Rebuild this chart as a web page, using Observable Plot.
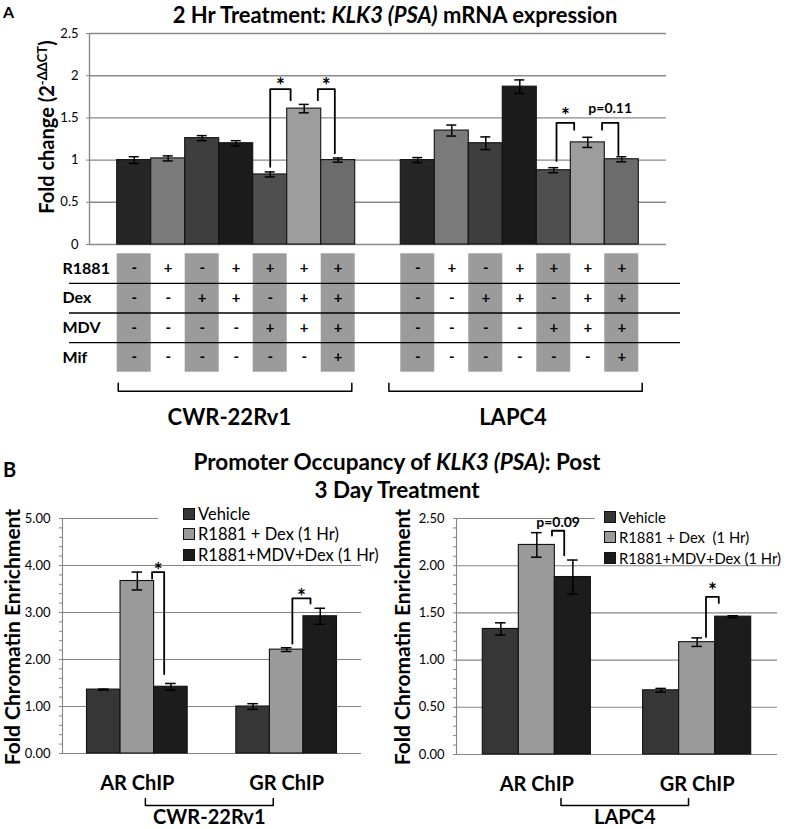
<!DOCTYPE html>
<html><head><meta charset="utf-8">
<script src="https://cdn.jsdelivr.net/npm/d3@7"></script>
<script src="https://cdn.jsdelivr.net/npm/@observablehq/plot@0.6"></script>
<style>
body{margin:0;background:#fff;}
#root{position:relative;width:787px;height:829px;overflow:hidden;font-family:Lato,"Open Sans",sans-serif;color:#000;background:#fff;}
#root svg{position:absolute;overflow:visible;}
.t{position:absolute;white-space:nowrap;font-weight:bold;line-height:1;}
.ctr{transform:translate(-50%,-50%);}
.rot{transform:translate(-50%,-50%) rotate(-90deg);}
.legend{position:absolute;background:#fff;font-size:17px;box-sizing:border-box;}
.legend .row{height:20.5px;line-height:20.5px;white-space:nowrap;display:flex;align-items:center;}
.legend .sw{width:10px;height:10px;border:1px solid #111;margin-right:3px;flex:none;}
</style></head><body><div id="root"></div>
<script>
// ---------------- DATA ----------------
// Panel A: 2 Hr treatment, KLK3 (PSA) mRNA fold change
const cellLines = ["CWR-22Rv1", "LAPC4"];
const foldCWR = [1.00, 1.02, 1.26, 1.20, 0.83, 1.61, 1.00];
const errCWR  = [0.04, 0.03, 0.03, 0.03, 0.03, 0.05, 0.025];
const foldLAPC = [1.00, 1.35, 1.20, 1.87, 0.88, 1.21, 1.01];
const errLAPC  = [0.03, 0.065, 0.075, 0.08, 0.03, 0.06, 0.03];
const greysA = ["#262626", "#7a7a7a", "#3e3e3e", "#1b1b1b", "#4f4f4f", "#9d9d9d", "#6c6c6c"];
const yTicksA = [0, 0.5, 1, 1.5, 2, 2.5];
const treatmentRows = ["R1881", "Dex", "MDV", "Mif"];
const signR1881 = ["-", "+", "-", "+", "+", "+", "+"];
const signDex   = ["-", "-", "+", "+", "-", "+", "+"];
const signMDV   = ["-", "-", "-", "-", "+", "+", "+"];
const signMif   = ["-", "-", "-", "-", "-", "-", "+"];
// significance annotations (column index units, values in fold change)
const sigA = [
  {group: 0, xa: 4.5, xb: 5.1, ya: 0.92, top: 1.84, yb: 1.71, label: "*", ly: 1.87},
  {group: 0, xa: 5.9, xb: 6.4, ya: 1.71, top: 1.84, yb: 1.08, label: "*", ly: 1.87},
  {group: 1, xa: 4.58, xb: 5.1, ya: 0.99, top: 1.44, yb: 1.36, label: "*", ly: 1.52},
  {group: 1, xa: 5.92, xb: 6.4, ya: 1.36, top: 1.44, yb: 1.06, label: "p=0.11", ly: 1.61}
];

// Panel B: promoter occupancy (fold chromatin enrichment)
const targets = ["AR ChIP", "GR ChIP"];
const treatmentsB = ["Vehicle", "R1881 + Dex (1 Hr)", "R1881+MDV+Dex (1 Hr)"];
const greysB = ["#363636", "#9a9a9a", "#1c1c1c"];
const cwrAR = [1.36, 3.67, 1.42];
const cwrARerr = [0.01, 0.19, 0.07];
const cwrGR = [1.00, 2.21, 2.92];
const cwrGRerr = [0.06, 0.04, 0.17];
const lapcAR = [1.33, 2.22, 1.88];
const lapcARerr = [0.065, 0.13, 0.18];
const lapcGR = [0.68, 1.19, 1.46];
const lapcGRerr = [0.02, 0.045, 0.01];
const sigCWR = [
  {g: 0, xa: 1.94, xb: 2.3, ya: 3.72, top: 3.86, yb: 1.69, label: "*", ly: 3.87},
  {g: 1, xa: 1.67, xb: 2.21, ya: 2.34, top: 3.30, yb: 3.19, label: "*", ly: 3.32}
];
const sigLAPC = [
  {g: 0, xa: 1.92, xb: 2.26, ya: 2.32, top: 2.37, yb: 2.11, label: "p=0.09", ly: 2.46},
  {g: 1, xa: 1.745, xb: 2.1, ya: 1.245, top: 1.67, yb: 1.606, label: "*", ly: 1.73}
];

// ---------------- LAYOUT ----------------
const root = document.getElementById("root");
const baseStyle = {fontFamily: "Lato, 'Open Sans', sans-serif", fontSize: "13px", color: "#000", background: "transparent", overflow: "visible"};
function place(el, left, top) { el.style.left = left + "px"; el.style.top = top + "px"; root.appendChild(el); }
function html(cls, content, left, top, css) {
  const d = document.createElement("div");
  d.className = cls; d.innerHTML = content;
  if (css) Object.assign(d.style, css);
  place(d, left, top);
  return d;
}
const starSize = d => d.label === "*" ? 21 : 14;

// ---- Panel A bars ----
const GAP = 1.34;
const slotA = (g, i) => g * (7 + GAP) + i;
const xDomA = [-0.815, 16.155];
const pxPerSlotA = 577 / (xDomA[1] - xDomA[0]);
const capA = 5 / pxPerSlotA;
const barsA = [];
[[foldCWR, errCWR], [foldLAPC, errLAPC]].forEach(([vals, errs], g) =>
  vals.forEach((v, i) => barsA.push({x1: slotA(g, i), x2: slotA(g, i) + 1, v, e: errs[i], fill: greysA[i]})));
const capsA = barsA.flatMap(d => [{x: d.x1 + 0.5, y: d.v - d.e}, {x: d.x1 + 0.5, y: d.v + d.e}]);
const sigPtsA = sigA.flatMap((s, k) => {
  const o = slotA(s.group, 0);
  return [{k, x: o + s.xa, y: s.ya}, {k, x: o + s.xa, y: s.top}, {k, x: o + s.xb, y: s.top}, {k, x: o + s.xb, y: s.yb}];
});

const plotA = Plot.plot({
  width: 787, height: 250, marginLeft: 89, marginRight: 121, marginTop: 33, marginBottom: 6,
  x: {domain: xDomA, axis: null},
  y: {domain: [0, 2.5], axis: null},
  style: baseStyle,
  marks: [
    Plot.ruleY(yTicksA, {stroke: "#8a8a8a", strokeWidth: 1.4}),
    Plot.ruleX([xDomA[0]], {stroke: "#8a8a8a", strokeWidth: 1.4}),
    Plot.axisY({ticks: yTicksA, tickSize: 3, tickPadding: 8, stroke: "#8a8a8a", fill: "#000", fontSize: 13, label: null, tickFormat: d => String(d)}),
    Plot.rectY(barsA, {x1: "x1", x2: "x2", y1: 0, y2: "v", fill: "fill", stroke: "#111", strokeWidth: 1.1}),
    Plot.ruleX(barsA, {x: d => d.x1 + 0.5, y1: d => d.v - d.e, y2: d => d.v + d.e, stroke: "#000", strokeWidth: 1.5}),
    Plot.ruleY(capsA, {y: "y", x1: d => d.x - capA, x2: d => d.x + capA, stroke: "#000", strokeWidth: 1.5}),
    Plot.line(sigPtsA, {x: "x", y: "y", z: "k", stroke: "#000", strokeWidth: 1.8}),
    Plot.text(sigA, {x: d => slotA(d.group, 0) + (d.xa + d.xb) / 2, y: "ly", text: "label", fill: "#000", fontWeight: "bold", fontSize: starSize})
  ]
});
place(plotA, 0, 0);

// ---- Panel A table ----
const signRows = [signR1881, signDex, signMDV, signMif];
const tableCells = [];
[0, 1].forEach(g => signRows.forEach((row, r) => row.forEach((s, i) => tableCells.push({x: slotA(g, i) + 0.5, y: r + 0.5, s}))));
const greyCols = [];
[0, 1].forEach(g => [0, 2, 4, 6].forEach(i => greyCols.push({x1: slotA(g, i), x2: slotA(g, i) + 1})));
const groupBrackets = [[0.03, 6.9], [-0.35, 7.1]];
const bracketPtsA = groupBrackets.flatMap(([a, b], g) => {
  const o = slotA(g, 0);
  return [{g, x: o + a, y: 4.37}, {g, x: o + a, y: 4.64}, {g, x: o + b, y: 4.64}, {g, x: o + b, y: 4.37}];
});
const tableA = Plot.plot({
  width: 787, height: 190, marginLeft: 69, marginRight: 107, marginTop: 0, marginBottom: 0,
  x: {domain: xDomA, range: [89, 666], axis: null},
  y: {domain: [0, 4], range: [5.3, 123.7], axis: null},
  style: baseStyle,
  marks: [
    Plot.rect(greyCols, {x1: "x1", x2: "x2", y1: 0, y2: 4, fill: "#9b9b9b"}),
    Plot.ruleY([1, 2, 3], {stroke: "#000", strokeWidth: 1.4}),
    Plot.text(tableCells, {x: "x", y: "y", text: "s", fill: "#000", fontWeight: "bold", fontSize: 15}),
    Plot.text(treatmentRows, {frameAnchor: "left", y: (d, i) => i + 0.5, text: d => d, fill: "#000", textAnchor: "start", dx: -7, fontWeight: "bold", fontSize: 16}),
    Plot.line(bracketPtsA, {x: "x", y: "y", z: "g", stroke: "#000", strokeWidth: 1.5}),
    Plot.text(cellLines, {x: (d, g) => slotA(g, 0) + 3.3, y: () => 5.55, text: d => d, fill: "#000", fontWeight: "bold", fontSize: 22})
  ]
});
place(tableA, 0, 248);

// ---- Panel B charts ----
const fmt2 = d3.format(".2f");
function chartB(cfg) {
  const {vals, errs, sig, yMax, majorStep, minorStep, W, H, mL, mR, mT, mB, bracket, cellLine, bracketDy, labelDy} = cfg;
  const S = 4.45;
  const xDom = [-0.73, 8.18];
  const pxPerSlot = (W - mL - mR) / (xDom[1] - xDom[0]);
  const pxPerUnit = (H - mT - mB) / yMax;
  const cap = 5.3 / pxPerSlot;
  const bars = [];
  targets.forEach((t, g) => treatmentsB.forEach((tr, j) => bars.push({x1: g * S + j, x2: g * S + j + 1, v: vals[g][j], e: errs[g][j], fill: greysB[j]})));
  const caps = bars.flatMap(d => [{x: d.x1 + 0.5, y: d.v - d.e}, {x: d.x1 + 0.5, y: d.v + d.e}]);
  const sigPts = sig.flatMap((s, k) => [
    {k, x: s.g * S + s.xa, y: s.ya}, {k, x: s.g * S + s.xa, y: s.top},
    {k, x: s.g * S + s.xb, y: s.top}, {k, x: s.g * S + s.xb, y: s.yb}]);
  const y1 = -bracketDy[0] / pxPerUnit, y2 = -bracketDy[1] / pxPerUnit;
  const brPts = [{x: bracket[0], y: y1}, {x: bracket[0], y: y2}, {x: bracket[1], y: y2}, {x: bracket[1], y: y1}];
  const major = d3.range(0, yMax + 1e-9, majorStep);
  const minor = d3.range(0, Math.round(yMax / minorStep) + 1).map(i => +(i * minorStep).toFixed(4));
  const isMajor = d => Math.abs(d / majorStep - Math.round(d / majorStep)) < 1e-6;
  return Plot.plot({
    width: W, height: H, marginLeft: mL, marginRight: mR, marginTop: mT, marginBottom: mB,
    x: {domain: xDom, axis: null},
    y: {domain: [0, yMax], axis: null},
    style: baseStyle,
    marks: [
      Plot.ruleY(major, {stroke: "#858585", strokeWidth: 1.1}),
      Plot.ruleX([xDom[0]], {stroke: "#858585", strokeWidth: 1.1}),
      Plot.axisY({ticks: minor, tickSize: 3, tickPadding: 9, stroke: "#858585", fill: "#000", fontSize: 13, label: null, tickFormat: d => isMajor(d) ? fmt2(d) : ""}),
      Plot.rectY(bars, {x1: "x1", x2: "x2", y1: 0, y2: "v", fill: "fill", stroke: "#111", strokeWidth: 1.1}),
      Plot.ruleX(bars, {x: d => d.x1 + 0.5, y1: d => d.v - d.e, y2: d => d.v + d.e, stroke: "#000", strokeWidth: 1.5}),
      Plot.ruleY(caps, {y: "y", x1: d => d.x - cap, x2: d => d.x + cap, stroke: "#000", strokeWidth: 1.5}),
      Plot.line(sigPts, {x: "x", y: "y", z: "k", stroke: "#000", strokeWidth: 1.8}),
      Plot.text(sig, {x: d => d.g * S + (d.xa + d.xb) / 2, y: "ly", text: "label", fill: "#000", fontWeight: "bold", fontSize: starSize}),
      Plot.text(targets, {x: (d, g) => g * S + 1.5, y: () => 0, dy: 30, text: d => d, fill: "#000", fontWeight: "bold", fontSize: 20}),
      Plot.line(brPts, {x: "x", y: "y", stroke: "#000", strokeWidth: 1.5}),
      Plot.text([cellLine], {x: () => (bracket[0] + bracket[1]) / 2, y: () => 0, dy: labelDy, text: d => d, fill: "#000", fontWeight: "bold", fontSize: 20})
    ]
  });
}
const plotBL = chartB({
  vals: [cwrAR, cwrGR], errs: [cwrARerr, cwrGRerr], sig: sigCWR,
  yMax: 5, majorStep: 1, minorStep: 0.2,
  W: 390, H: 329, mL: 62, mR: 29, mT: 18, mB: 76,
  bracket: [1.74, 5.55], bracketDy: [45, 52], labelDy: 64, cellLine: "CWR-22Rv1"
});
place(plotBL, 0, 500);
const plotBR = chartB({
  vals: [lapcAR, lapcGR], errs: [lapcARerr, lapcGRerr], sig: sigLAPC,
  yMax: 2.5, majorStep: 0.5, minorStep: 0.1,
  W: 397, H: 329, mL: 66, mR: 10, mT: 18, mB: 75,
  bracket: [2.17, 5.71], bracketDy: [44, 51], labelDy: 63, cellLine: "LAPC4"
});
place(plotBR, 390, 500);

// ---- Text: labels, titles, legends ----
html("t", "A", 3, 4, {fontSize: "16px"});
html("t ctr", "2 Hr Treatment: <i>KLK3 (PSA)</i> mRNA expression", 395, 15, {fontSize: "22px"});
html("t rot", "Fold change (2<sup style='font-size:13px;vertical-align:0.55em'>-ΔΔCT</sup>)", 46, 127, {fontSize: "20px"});
html("t", "B", 3, 459, {fontSize: "20px"});
html("t ctr", "Promoter Occupancy of <i>KLK3 (PSA)</i>: Post", 397, 462, {fontSize: "22.5px"});
html("t ctr", "3 Day Treatment", 397, 490, {fontSize: "22.5px"});
html("t rot", "Fold Chromatin Enrichment", 11, 637, {fontSize: "21px"});
html("t rot", "Fold Chromatin Enrichment", 401, 637, {fontSize: "21px"});

function legend(left, top, width, height, padLeft, fontSize, labels) {
  const rows = treatmentsB.map((t, j) =>
    `<div class="row"><span class="sw" style="background:${greysB[j]}"></span><span>${labels[j]}</span></div>`).join("");
  html("legend", rows, left, top, {width: width + "px", height: height + "px", paddingLeft: padLeft + "px", fontSize: fontSize + "px"});
}
legend(158, 503.7, 212, 58, 25, 16.5, treatmentsB);
legend(595, 506.5, 192, 55.5, 9, 14.8, [treatmentsB[0], "R1881 + Dex&nbsp; (1 Hr)", treatmentsB[2]]);
</script></body></html>
